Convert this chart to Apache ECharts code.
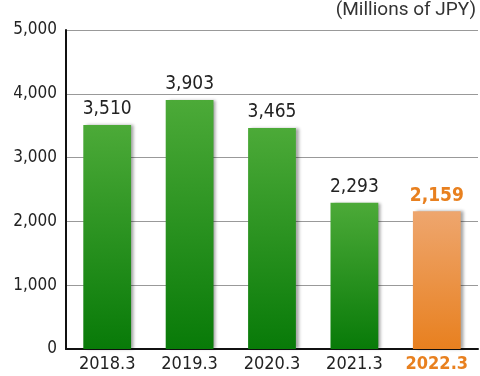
<!DOCTYPE html>
<html>
<head>
<meta charset="utf-8">
<script src="https://cdn.jsdelivr.net/npm/echarts@6/dist/echarts.min.js"></script>
<style>
  html, body { margin: 0; padding: 0; background: #fff; }
  #chart { width: 480px; height: 376px; }
</style>
</head>
<body>
<div id="chart"></div>
<script>
// values
const years = ['2018.3', '2019.3', '2020.3', '2021.3', '2022.3'];
const sales = [3510, 3903, 3465, 2293, 2159];
const highlightIndex = 4;

const FONT = '"DejaVu Sans Condensed", sans-serif';

const green = new echarts.graphic.LinearGradient(0, 0, 0, 1, [
  { offset: 0, color: '#4caa38' },
  { offset: 1, color: '#087a08' }
]);
const orange = new echarts.graphic.LinearGradient(0, 0, 0, 1, [
  { offset: 0, color: '#eea66e' },
  { offset: 1, color: '#e8801f' }
]);

const myChart = echarts.init(document.getElementById('chart'));

const option = {
  animation: false,
  textStyle: { fontFamily: FONT },
  graphic: [
    {
      type: 'text',
      right: 4,
      top: 1,
      style: {
        text: '(Millions of JPY)',
        fontSize: 19,
        fontFamily: 'Roboto, sans-serif',
        fill: '#333'
      }
    }
  ],
  grid: {
    left: 66,
    right: 2,
    top: 30,
    bottom: 27
  },
  xAxis: {
    type: 'category',
    data: years,
    axisLine: { lineStyle: { color: '#111', width: 2 } },
    axisTick: { show: false },
    axisLabel: {
      interval: 0,
      margin: 6,
      fontSize: 18,
      color: '#222',
      formatter: function (v, i) {
        return i === highlightIndex ? '{hl|' + v + '}' : v;
      },
      rich: {
        hl: { fontSize: 18, fontWeight: 'bold', color: '#e8801f', fontFamily: FONT }
      }
    }
  },
  yAxis: {
    type: 'value',
    min: 0,
    max: 5000,
    interval: 1000,
    axisLine: { show: true, lineStyle: { color: '#111', width: 2 } },
    axisTick: { show: false },
    axisLabel: {
      margin: 9,
      fontSize: 17,
      color: '#222',
      formatter: function (v) { return v.toLocaleString('en-US'); }
    },
    splitLine: { lineStyle: { color: '#999', width: 1 } }
  },
  series: [
    {
      type: 'bar',
      barWidth: '58%',
      data: sales.map(function (v, i) {
        const hl = i === highlightIndex;
        return {
          value: v,
          itemStyle: { color: hl ? orange : green },
          label: hl ? { color: '#e8801f', fontWeight: 'bold', fontSize: 19 } : {}
        };
      }),
      itemStyle: {
        shadowColor: 'rgba(0,0,0,0.35)',
        shadowBlur: 3,
        shadowOffsetX: 3,
        shadowOffsetY: 0
      },
      label: {
        show: true,
        position: 'top',
        distance: 6,
        fontSize: 19,
        color: '#222',
        formatter: function (p) { return p.value.toLocaleString('en-US'); }
      }
    }
  ]
};

myChart.setOption(option);
</script>
</body>
</html>
